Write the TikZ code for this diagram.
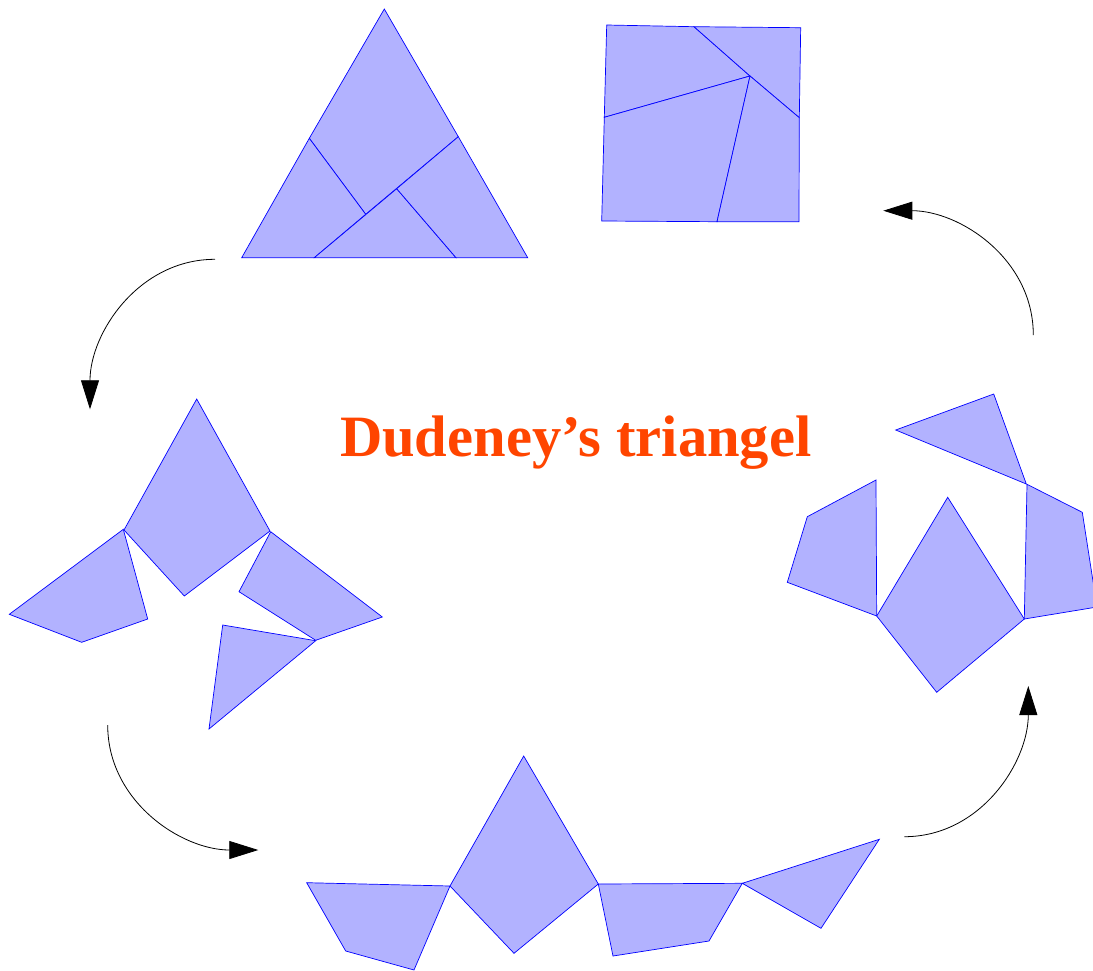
\documentclass[tikz,border=0pt]{standalone}
\usepackage{fontspec}
\setmainfont{Liberation Serif}
\usepackage{xcolor}
\usetikzlibrary{arrows.meta}
\definecolor{titleorange}{RGB}{255,69,0}

\begin{document}
\begin{tikzpicture}[x=1pt, y=-1pt,
    piece/.style={fill=blue!30, draw=blue, line width=0.7pt, line join=miter},
    turn/.style={draw=black, line width=0.8pt, -{Triangle[length=29pt, width=18pt]}},
    title/.style={anchor=base, text=titleorange, font=\fontsize{58.6}{60}\selectfont\bfseries}]
    \useasboundingbox (0,0) rectangle (1093,970);
    \clip (0,0) rectangle (1093,970);

    % triangle
    \draw[piece] (384.3,9) -- (309.3,138.3) -- (365.7,214.3) -- (458.3,136.7) -- cycle;
    \draw[piece] (241.7,257.7) -- (309.3,138.3) -- (365.7,214.3) -- (314.3,257.7) -- cycle;
    \draw[piece] (314.3,257.7) -- (396.7,188.7) -- (456,257.7) -- cycle;
    \draw[piece] (458.3,136.7) -- (527.7,257.7) -- (456,257.7) -- (396.7,188.7) -- cycle;

    % square
    \draw[piece] (606.7,25) -- (694,26.7) -- (750,76) -- (604.3,117.3) -- cycle;
    \draw[piece] (694,26.7) -- (800.7,27.7) -- (799.3,117.7) -- (750,76) -- cycle;
    \draw[piece] (604.3,117.3) -- (750,76) -- (717,221.7) -- (601.7,221) -- cycle;
    \draw[piece] (750,76) -- (799.3,117.7) -- (799,221.7) -- (717,221.7) -- cycle;

    % left stage
    \draw[piece] (196.7,399) -- (124,530) -- (184.3,596) -- (270,531) -- cycle;
    \draw[piece] (123.3,529.3) -- (9.3,614.3) -- (81.7,642.3) -- (147.7,619) -- cycle;
    \draw[piece] (270.7,531.7) -- (382.3,617) -- (315.7,640.3) -- (239,591.7) -- cycle;
    \draw[piece] (222.7,625) -- (315.7,640.7) -- (209,729) -- cycle;

    % bottom stage
    \draw[piece] (306.7,882.7) -- (450,886) -- (414,970) -- (345.7,951) -- cycle;
    \draw[piece] (450,886) -- (523.7,756) -- (598.3,884) -- (514,953.3) -- cycle;
    \draw[piece] (598.3,884) -- (742.3,883.3) -- (709,941) -- (613,956) -- cycle;
    \draw[piece] (742.3,883.3) -- (879.3,839.3) -- (821,928.3) -- cycle;

    % right stage
    \draw[piece] (895.7,430) -- (993.7,394) -- (1026.3,484) -- cycle;
    \draw[piece] (876,480) -- (807.3,516.7) -- (787.3,582.3) -- (876.7,616) -- cycle;
    \draw[piece] (947.7,497.3) -- (876.7,616) -- (936.7,692.3) -- (1024.3,619) -- cycle;
    \draw[piece] (1027,484.3) -- (1082.3,512.3) -- (1097,607) -- (1024.3,619) -- cycle;

    \node[title] (title) at (575.8,456) {Dudeney’s triangel};

    % arrows between stages
    \coordinate (tl-s) at (215,259.3);   \coordinate (tl-e) at (90,409.3);
    \coordinate (bl-s) at (107.7,725);   \coordinate (bl-e) at (258.3,850);
    \coordinate (br-s) at (904.3,836.7); \coordinate (br-e) at (1028.3,686);
    \coordinate (tr-s) at (1033.3,335);  \coordinate (tr-e) at (883.3,210.7);
    \draw[turn] (tl-s) to[out=180, in=90] (tl-e);
    \draw[turn] (bl-s) to[out=-90, in=180] (bl-e);
    \draw[turn] (br-s) to[out=0, in=-90] (br-e);
    \draw[turn] (tr-s) to[out=90, in=0] (tr-e);
\end{tikzpicture}
\end{document}
